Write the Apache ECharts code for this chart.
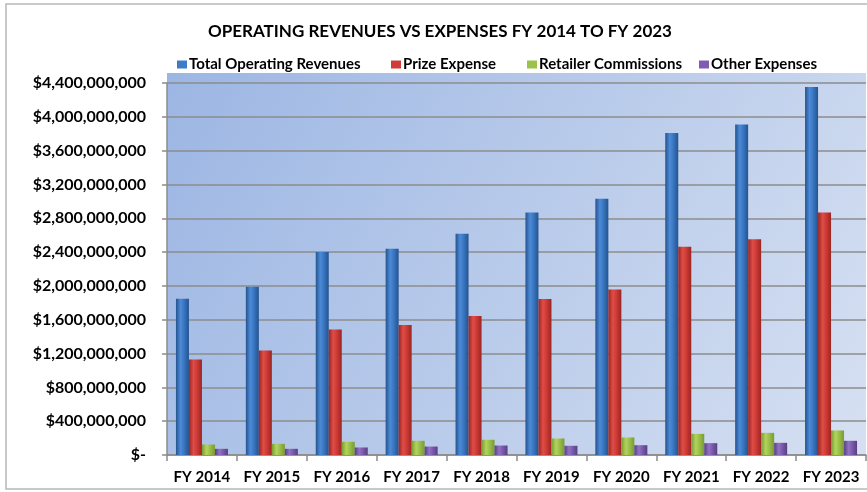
<!DOCTYPE html>
<html>
<head>
<meta charset="utf-8">
<script src="https://cdn.jsdelivr.net/npm/echarts@6/dist/echarts.min.js"></script>
<style>
html,body{margin:0;padding:0;background:#fff;}
#chart{width:867px;height:492px;}
</style>
</head>
<body>
<div id="chart"></div>
<script>
const categories = ['FY 2014','FY 2015','FY 2016','FY 2017','FY 2018','FY 2019','FY 2020','FY 2021','FY 2022','FY 2023'];
const totalOperatingRevenues = [1847000000,1990000000,2400000000,2440000000,2616000000,2869000000,3030000000,3810000000,3910000000,4353000000];
const prizeExpense = [1129000000,1235000000,1483000000,1539000000,1645000000,1846000000,1958000000,2462000000,2553000000,2869000000];
const retailerCommissions = [124000000,132000000,156000000,168000000,180000000,195000000,207000000,250000000,262000000,290000000];
const otherExpenses = [73000000,73000000,89000000,100000000,112000000,109000000,116000000,140000000,144000000,168000000];
const seriesNames = ['Total Operating Revenues','Prize Expense','Retailer Commissions','Other Expenses'];
const yMax = 4400000000;
const yInterval = 400000000;

const FONT = 'Lato';
function grad(dark, mid, light){
  return new echarts.graphic.LinearGradient(0,0,1,0,[
    {offset:0,color:dark},{offset:0.35,color:light},{offset:0.6,color:mid},{offset:1,color:dark}
  ]);
}
const colors = [
  grad('#24538f','#3a78c3','#4d8ad6'),
  grad('#9a2522','#cf3c37','#e04d47'),
  grad('#7a9a32','#9bc04a','#b2d45e'),
  grad('#573f82','#7d5bae','#9372c2')
];
const legendColors = ['#3f7cc8','#d03c38','#9cc24b','#7e5cae'];
const legendLeft = [177, 391, 527, 699];

function fmt(v){
  if (v === 0) return '$-';
  return '$' + v.toString().replace(/\B(?=(\d{3})+(?!\d))/g, ',');
}

const chart = echarts.init(document.getElementById('chart'));
const dataArr = [totalOperatingRevenues, prizeExpense, retailerCommissions, otherExpenses];
chart.setOption({
  animation:false,
  backgroundColor:'#ffffff',
  graphic:[
    {type:'rect', z:-10, shape:{x:6,y:4,width:870,height:485}, style:{fill:'#ffffff',stroke:'#b8b8b8',lineWidth:1.5}},
    {type:'rect', z:-5, shape:{x:167,y:73,width:699,height:382},
     style:{fill:new echarts.graphic.LinearGradient(0,0,1,1,[{offset:0,color:'#9cb6e3'},{offset:1,color:'#d6e0f2'}])}}
  ],
  title:{
    text:'OPERATING REVENUES VS EXPENSES FY 2014 TO FY 2023',
    left:435, textAlign:'center', top:18,
    textStyle:{fontFamily:FONT,fontWeight:'bold',fontSize:17,color:'#000'}
  },
  legend:seriesNames.map((n,i)=>({
    data:[{name:n,itemStyle:{color:legendColors[i]}}],
    left:legendLeft[i], top:57, padding:0,
    icon:'rect', itemWidth:10, itemHeight:8,
    textStyle:{fontFamily:FONT,fontWeight:'bold',fontSize:15,color:'#000',padding:[0,0,0,-3]}
  })),
  grid:{left:167,right:1,top:83,bottom:37,containLabel:false},
  xAxis:{
    type:'category', data:categories,
    axisLine:{lineStyle:{color:'#8c8c8c',width:1.5}},
    axisTick:{show:true,length:6,interval:0,lineStyle:{color:'#8c8c8c',width:1.5}},
    axisLabel:{interval:0,fontFamily:FONT,fontWeight:'bold',fontSize:15,color:'#000',margin:15}
  },
  yAxis:{
    type:'value', min:0, max:yMax, interval:yInterval,
    axisLine:{show:true,lineStyle:{color:'#8c8c8c',width:1.5}},
    axisTick:{show:true,length:5,lineStyle:{color:'#8c8c8c',width:1.5}},
    splitLine:{show:true,lineStyle:{color:'#8c8c8c',width:1.5}},
    axisLabel:{fontFamily:FONT,fontWeight:'bold',fontSize:16,color:'#000',margin:21,formatter:fmt}
  },
  series:seriesNames.map((n,i)=>({
    name:n, type:'bar', data:dataArr[i], barWidth:13, barGap:'0%',
    itemStyle:{color:colors[i]}
  }))
});
</script>
</body>
</html>
